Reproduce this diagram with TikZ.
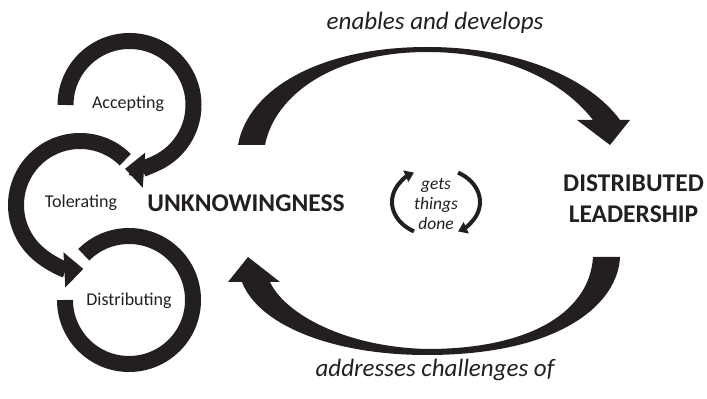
\documentclass[tikz,border=0pt]{standalone}
\usepackage{fontspec}
\setmainfont{Carlito}
\usepackage{tikz}
\usetikzlibrary{arrows.meta}
\tikzset{>=latex}
\definecolor{mydark}{RGB}{35, 31, 32}
\tikzset{ring/.style={draw = mydark, line width = 16pt},
ringarrow/.style={ring, -{Triangle[width=34pt, length=19pt]}},
loopy/.style={draw = mydark, line width = 4pt, -{Triangle[width=12pt, length=9pt]}},
circtext/.style={text = mydark, font = \fontsize{18}{20}\selectfont},
bigtext/.style={text = mydark, font = \fontsize{25.5}{31}\selectfont\bfseries},
edgetext/.style={text = mydark, font = \fontsize{25}{28}\selectfont\itshape},
smalltext/.style={text = mydark, font = \fontsize{17.5}{20}\selectfont\itshape}}

\begin{document}
\begin{tikzpicture}[x = 1pt, y = 1pt]
\useasboundingbox (0,0) rectangle (707,399);
\coordinate (acc) at (129.5,294);
\coordinate (tol) at (80,194);
\coordinate (dis) at (129,99);
\coordinate (gtd) at (436,197);

\draw[ringarrow] ([shift={(180:64)}]acc) arc (180:-94:64);
\draw[ringarrow] ([shift={(45:64)}]tol) arc (45:273:64);
\draw[ring] ([shift={(135:64)}]dis) arc (135:-180:64);

\node[circtext, anchor = base] (accl) at (128,290) {Accepting};
\node[circtext, anchor = base] (toll) at (81,191) {Tolerating};
\node[circtext, anchor = base] (disl) at (129,93) {Distributing};

\node[bigtext, anchor = base] (unk) at (246,187) {UNKNOWINGNESS};
\node[bigtext, align = center] (dl) at (633.5,200) {DISTRIBUTED\\LEADERSHIP};

\fill[mydark] (238,254) .. controls (248,310) and (320,352) .. (427,352)
  .. controls (520,352) and (590,320) .. (620,279) -- (630,279) -- (610,254) -- (577,279) -- (593,279)
  .. controls (565,315) and (510,347) .. (427,347)
  .. controls (335,347) and (275,305) .. (265,254) -- cycle;
\fill[mydark] (620,142) .. controls (618,95) and (560,44) .. (427,44)
  .. controls (330,44) and (258,75) .. (242,117) -- (228,117) -- (248,142) -- (280,117) -- (270,117)
  .. controls (285,85) and (345,52) .. (427,50)
  .. controls (535,50) and (590,90) .. (593,142) -- cycle;

\node[edgetext, anchor = base] (endev) at (435,369) {enables and develops};
\node[edgetext, anchor = base] (addch) at (435,22) {addresses challenges of};

\draw[loopy] ([shift={(240:44 and 34)}]gtd) arc (240:120:44 and 34);
\draw[loopy] ([shift={(60:44 and 34)}]gtd) arc (60:-60:44 and 34);
\node[smalltext, align = center] (gtdl) at (436,195) {gets\\things\\done};
\end{tikzpicture}
\end{document}
